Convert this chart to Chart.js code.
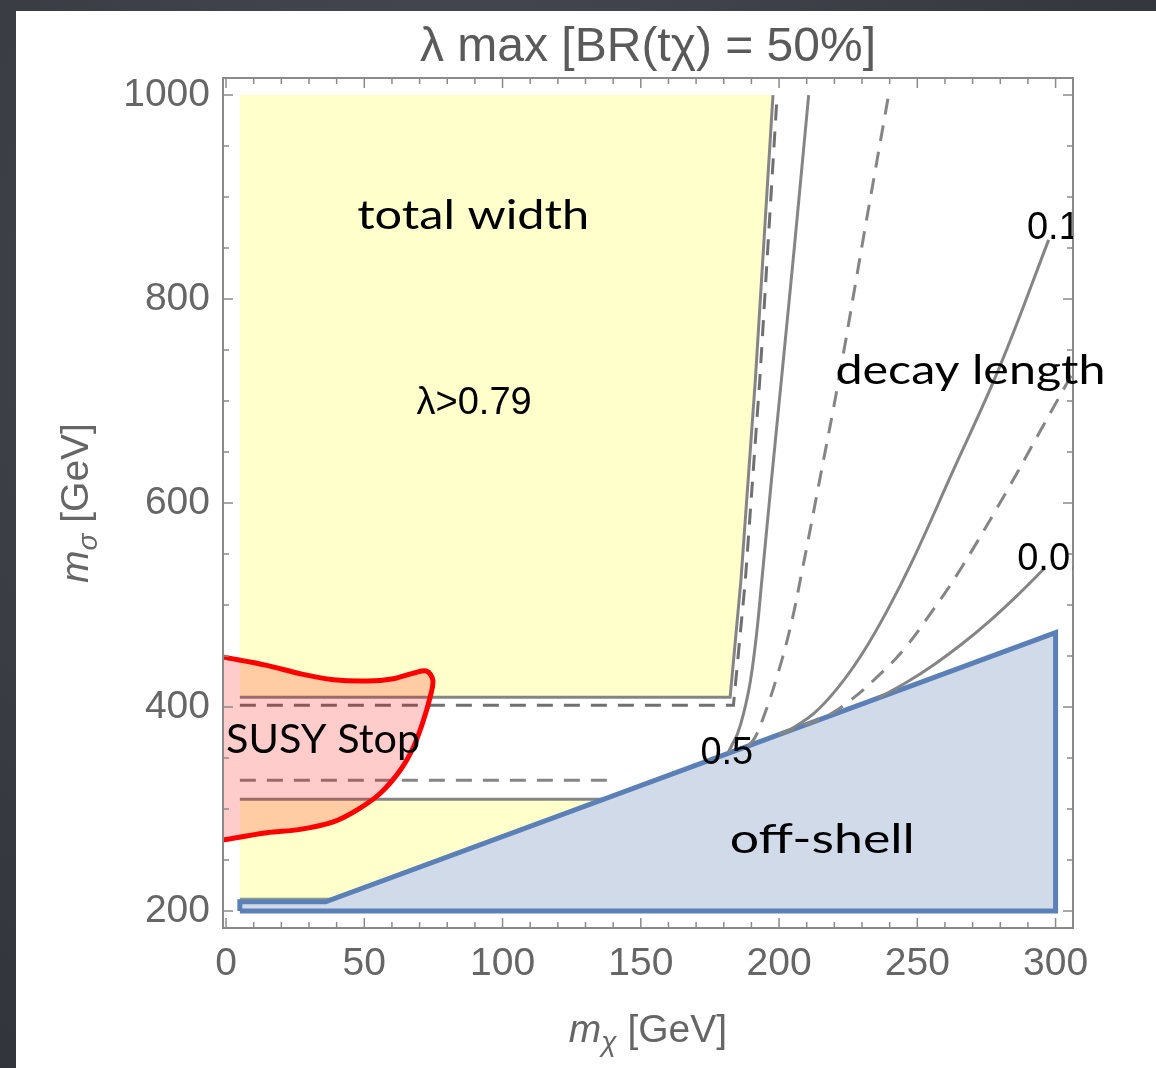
<!DOCTYPE html>
<html>
<head>
<meta charset="utf-8">
<script src="https://cdn.jsdelivr.net/npm/chart.js@4.4.1/dist/chart.umd.min.js"></script>
<style>
  html, body { margin: 0; padding: 0; }
  body { width: 1156px; height: 1068px; position: relative; overflow: hidden;
         background: radial-gradient(ellipse at 40% 30%, #4a4e56 0%, #35383f 70%, #2e3137 100%); }
  #panel { position: absolute; left: 16px; top: 11px; right: 0; bottom: 0; background: #fff; }
  #myChart { position: absolute; left: 0; top: 0; }
</style>
</head>
<body>
<div id="panel"></div>
<canvas id="myChart" width="1156" height="1068"></canvas>
<script>
// ticks
const xTicks = [0, 50, 100, 150, 200, 250, 300]
const yTicks = [200, 400, 600, 800, 1000]

// regions, [m_chi, m_sigma] in GeV
const widthUpper = [[5, 1000], [197.8, 1000], [191.4, 719.7], [186.2, 524], [182.3, 409.5], [5, 409.5], [5, 1000]]
const widthLower = [[5, 309.6], [136.6, 309.6], [36, 209], [5, 209], [5, 309.6]]
const offShell = [[5, 200], [5, 209], [36, 209], [300, 473], [300, 200], [5, 200]]
const susyStop = [[-1.2, 449], [14.7, 440.8], [26.8, 432.6], [38.8, 426.8], [50.9, 425.4], [60.5, 427.7],
    [67.8, 433.2], [72.6, 435.2], [74.8, 426], [73.8, 409.7], [71.4, 387], [67.8, 360.8], [63, 338],
    [55.7, 315.2], [47.3, 298.9], [38.8, 287.4], [26.8, 280], [14.7, 276.6], [-1.2, 269.5]]

// BR contours
const brSolid = [[5, 409.5], [182.3, 409.5], [186.2, 524], [191.4, 719.7], [197.8, 1000]]
const brSolidLow = [[5, 309.6], [136.6, 309.6]]
const brShell = [[5, 212], [38, 212], [136.6, 310]]
const brDash = [[5, 401.6], [183.5, 401.6], [187.8, 524], [193, 719.7], [199.3, 1000]]
const brDashLow = [[5, 328.2], [139.7, 328.2]]

// decay length contours
const decay05 = [[181.5, 355], [183, 363], [185, 374], [187.2, 394], [189.6, 425], [191.8, 470], [193.8, 525],
    [196.8, 610], [200.8, 719.7], [205.5, 850], [210.7, 1000]]
const decayDashA = [[189, 362], [191.4, 370.6], [194.4, 390.2], [199.2, 429.3], [204.1, 478.3], [208.3, 533],
    [214.5, 620], [221.5, 719.7], [230.5, 860], [239.6, 1000]]
const decay01 = [[203, 376], [212.5, 393.5], [221, 418], [230, 452], [239, 494], [248.7, 546],
    [262, 626], [280, 735], [297.5, 858]]
const decayDashB = [[200, 373], [210, 383], [217.3, 391], [225.8, 406.5], [235.4, 429.3], [245, 456],
    [255.9, 496], [265.6, 535], [282, 610], [294.5, 670.8], [306.3, 728]]
const decay001 = [[236, 409], [246, 424], [256, 441.5], [266, 461.5], [276, 484], [286, 509], [296, 536]]

const contourLabels = [["0.5", 181.1, 354.3], ["0.1", 299.2, 869.4], ["0.01", 299.5, 544.5]]
// text, x, y, width in px
const notes = [["total width", 89.4, 881, 232], ["decay length", 269.2, 729.5, 270],
    ["SUSY Stop", 35.1, 367.4, 194], ["off-shell", 215.6, 269.5, 185]]

const GRAY = '#858585'
const pts = a => a.map(p => ({ x: p[0], y: p[1] }))

function line(data, opts) {
    return Object.assign({
        data: pts(data), borderColor: GRAY, borderWidth: 3, pointRadius: 0,
        tension: 0, fill: false, capBezierPoints: false
    }, opts)
}

// bottom to top
const layers = [
    line(widthUpper, { borderWidth: 0, areaColor: '#ffffcc' }),
    line(widthLower, { borderWidth: 0, areaColor: '#ffffcc' }),
    line(brShell, { borderWidth: 2, borderColor: '#8c9a80' }),
    line(brSolid, {}),
    line(brSolidLow, {}),
    line(brDash, { borderDash: [16, 11], borderColor: '#707070' }),
    line(brDashLow, { borderDash: [16, 11] }),
    line(offShell, { borderWidth: 5, borderColor: '#5b80b8', areaColor: '#d0dae9', borderJoinStyle: 'miter' }),
    line(decay05, { tension: 0.4 }),
    line(decayDashA, { tension: 0.4, borderDash: [16, 11] }),
    line(decay01, { tension: 0.4 }),
    line(decayDashB, { tension: 0.4, borderDash: [16, 11] }),
    line(decay001, { tension: 0.4 }),
    line(susyStop, { borderWidth: 5, borderColor: '#ff0000', areaColor: 'rgba(255,0,0,0.2)', tension: 0.35 })
]
layers.forEach((d, i) => { d.order = layers.length - i })

// fill a dataset's own outline before its line is stroked
const areaFill = {
    id: 'areaFill',
    beforeDatasetDraw(chart, args) {
        const ds = chart.data.datasets[args.index]
        if (!ds.areaColor) return
        const ctx = chart.ctx
        const a = chart.chartArea
        const el = args.meta.dataset
        ctx.save()
        ctx.beginPath()
        ctx.rect(a.left, a.top, a.right - a.left, a.bottom - a.top)
        ctx.clip()
        ctx.beginPath()
        el.updateControlPoints(a, 'x')
        el.path(ctx)
        ctx.closePath()
        ctx.fillStyle = ds.areaColor
        ctx.fill()
        ctx.restore()
    }
}

// mathematica style frame, inward ticks, labels and axis titles
const frame = {
    id: 'frame',
    afterDatasetsDraw(chart) {
        const ctx = chart.ctx
        const a = chart.chartArea
        const sx = chart.scales.x, sy = chart.scales.y
        ctx.save()
        ctx.strokeStyle = '#8a8a8a'
        ctx.lineWidth = 2
        ctx.strokeRect(a.left, a.top, a.right - a.left, a.bottom - a.top)
        ctx.lineWidth = 1.5
        ctx.beginPath()
        for (let v = 0; v <= 300; v += 10) {
            const p = sx.getPixelForValue(v)
            const len = v % 50 ? 6 : 10
            ctx.moveTo(p, a.bottom); ctx.lineTo(p, a.bottom - len)
            ctx.moveTo(p, a.top); ctx.lineTo(p, a.top + len)
        }
        for (let v = 200; v <= 1000; v += 50) {
            const p = sy.getPixelForValue(v)
            const len = v % 200 ? 6 : 10
            ctx.moveTo(a.left, p); ctx.lineTo(a.left + len, p)
            ctx.moveTo(a.right, p); ctx.lineTo(a.right - len, p)
        }
        ctx.stroke()

        // contour labels, cut at the frame
        ctx.save()
        ctx.beginPath()
        ctx.rect(a.left, a.top, a.right - a.left, a.bottom - a.top)
        ctx.clip()
        ctx.fillStyle = '#000'
        ctx.font = '38px "Liberation Sans"'
        ctx.textAlign = 'center'
        ctx.textBaseline = 'middle'
        contourLabels.forEach(l => ctx.fillText(l[0], sx.getPixelForValue(l[1]), sy.getPixelForValue(l[2])))
        ctx.restore()

        ctx.fillStyle = '#000'
        ctx.textAlign = 'center'
        ctx.textBaseline = 'middle'
        ctx.font = '38px "Liberation Sans"'
        ctx.fillText('\u03bb>0.79', sx.getPixelForValue(89.7), sy.getPixelForValue(697.2))
        ctx.font = '40px Lato, "Comic Sans MS", cursive'
        notes.forEach(n => {
            const w = ctx.measureText(n[0]).width
            ctx.save()
            ctx.translate(sx.getPixelForValue(n[1]), sy.getPixelForValue(n[2]))
            ctx.scale(n[3] / w, 1)
            ctx.fillText(n[0], 0, 0)
            ctx.restore()
        })
        ctx.restore()
    },
    afterDraw(chart) {
        const ctx = chart.ctx
        const a = chart.chartArea
        const cx = (a.left + a.right) / 2
        ctx.save()
        ctx.fillStyle = '#5a5a5a'
        ctx.textAlign = 'center'
        ctx.textBaseline = 'alphabetic'
        ctx.font = '48px "Liberation Sans"'
        ctx.fillText('\u03bb max [BR(t\u03c7) = 50%]', cx, 61)

        ctx.fillStyle = '#666'
        axisTitle(ctx, cx, 1042, '\u03c7')
        ctx.translate(88, (a.top + a.bottom) / 2)
        ctx.rotate(-Math.PI / 2)
        axisTitle(ctx, 0, 0, '\u03c3')
        ctx.restore()
    }
}

function axisTitle(ctx, cx, base, sub) {
    const f1 = 'italic 39px "Liberation Sans"'
    const f2 = 'italic 28px "Liberation Sans"'
    const f3 = '39px "Liberation Sans"'
    const rest = ' [GeV]'
    ctx.font = f1; const w1 = ctx.measureText('m').width
    ctx.font = f2; const w2 = ctx.measureText(sub).width
    ctx.font = f3; const w3 = ctx.measureText(rest).width
    let x = cx - (w1 + w2 + w3) / 2
    ctx.textAlign = 'left'
    ctx.font = f1; ctx.fillText('m', x, base); x += w1
    ctx.font = f2; ctx.fillText(sub, x, base + 9); x += w2
    ctx.font = f3; ctx.fillText(rest, x, base)
}

Chart.defaults.font.family = '"Liberation Sans", Arial, sans-serif'

const config = {
    type: 'line',
    data: { datasets: layers },
    options: {
        responsive: false,
        animation: false,
        events: [],
        layout: { padding: { left: 0, top: 78, right: 83, bottom: 0 } },
        plugins: { legend: { display: false }, title: { display: false }, tooltip: { enabled: false } },
        scales: {
            x: {
                type: 'linear', min: -1.1, max: 306.3,
                afterBuildTicks: s => { s.ticks = xTicks.map(v => ({ value: v })) },
                afterFit: s => { s.height = 140 },
                grid: { display: false }, border: { display: false },
                ticks: { padding: 5, color: '#666', font: { size: 39 }, autoSkip: false, maxRotation: 0, callback: v => String(v) }
            },
            y: {
                type: 'linear', min: 183.3, max: 1016.7,
                afterBuildTicks: s => { s.ticks = yTicks.map(v => ({ value: v })) },
                afterFit: s => { s.width = 223 },
                grid: { display: false }, border: { display: false },
                ticks: { padding: 5, color: '#666', font: { size: 39 }, autoSkip: false, callback: v => String(v) }
            }
        }
    },
    plugins: [areaFill, frame]
}

const myChart = new Chart(document.getElementById('myChart'), config)
</script>
</body>
</html>
